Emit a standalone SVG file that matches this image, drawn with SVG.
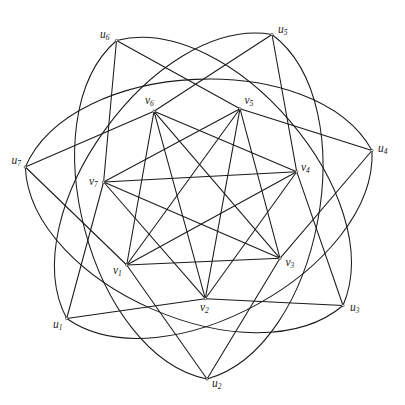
<svg xmlns="http://www.w3.org/2000/svg" width="405" height="405" viewBox="0 0 405 405">
<style>
.e{stroke:#1a1a1a;stroke-width:1.05;fill:none;stroke-linecap:round}
.a{stroke:#1a1a1a;stroke-width:1.05;fill:none}
.n{fill:#fff;stroke:#1a1a1a;stroke-width:0.6}
.l{font-family:"Liberation Serif","DejaVu Serif",serif;font-style:italic;font-size:11.5px;fill:#222}
.s{font-size:7.5px}
</style>
<rect width="405" height="405" fill="#fff"/>
<g id="connectors">
<g id="arcs">
<path class="a" d="M66.7,318.5 C163.4,386.3 377.5,268.4 372,150.5"/>
<path class="a" d="M207,379 C320.8,347.6 366.5,105.3 272,34.5"/>
<path class="a" d="M343,305.5 C389.8,197.1 230.9,11.2 116.5,40.5"/>
<path class="a" d="M372,150.5 C315,47.1 72.2,58.7 25.3,167"/>
<path class="a" d="M272,34.5 C155.6,14.5 11.3,214.2 66.7,318.5"/>
<path class="a" d="M116.5,40.5 C27.5,118.1 91.2,356.2 207,379"/>
<path class="a" d="M25.3,167 C30.6,284.9 253,381.9 343,305.5"/>
</g>
<g id="spokes">
<line class="e" x1="66.7" y1="318.5" x2="103.6" y2="182"/>
<line class="e" x1="66.7" y1="318.5" x2="205.3" y2="298.7"/>
<line class="e" x1="207" y1="379" x2="126.7" y2="265"/>
<line class="e" x1="207" y1="379" x2="280" y2="258.3"/>
<line class="e" x1="343" y1="305.5" x2="205.3" y2="298.7"/>
<line class="e" x1="343" y1="305.5" x2="296.7" y2="171.7"/>
<line class="e" x1="372" y1="150.5" x2="280" y2="258.3"/>
<line class="e" x1="372" y1="150.5" x2="240" y2="108.7"/>
<line class="e" x1="272" y1="34.5" x2="296.7" y2="171.7"/>
<line class="e" x1="272" y1="34.5" x2="154" y2="111.3"/>
<line class="e" x1="116.5" y1="40.5" x2="240" y2="108.7"/>
<line class="e" x1="116.5" y1="40.5" x2="103.6" y2="182"/>
<line class="e" x1="25.3" y1="167" x2="154" y2="111.3"/>
<line class="e" x1="25.3" y1="167" x2="126.7" y2="265"/>
</g>
<g id="inner">
<line class="e" x1="126.7" y1="265" x2="280" y2="258.3"/>
<line class="e" x1="205.3" y1="298.7" x2="296.7" y2="171.7"/>
<line class="e" x1="280" y1="258.3" x2="240" y2="108.7"/>
<line class="e" x1="296.7" y1="171.7" x2="154" y2="111.3"/>
<line class="e" x1="240" y1="108.7" x2="103.6" y2="182"/>
<line class="e" x1="154" y1="111.3" x2="126.7" y2="265"/>
<line class="e" x1="103.6" y1="182" x2="205.3" y2="298.7"/>
<line class="e" x1="126.7" y1="265" x2="296.7" y2="171.7"/>
<line class="e" x1="205.3" y1="298.7" x2="240" y2="108.7"/>
<line class="e" x1="280" y1="258.3" x2="154" y2="111.3"/>
<line class="e" x1="296.7" y1="171.7" x2="103.6" y2="182"/>
<line class="e" x1="240" y1="108.7" x2="126.7" y2="265"/>
<line class="e" x1="154" y1="111.3" x2="205.3" y2="298.7"/>
<line class="e" x1="103.6" y1="182" x2="280" y2="258.3"/>
</g>
</g>
<g id="u1"><circle class="n" cx="66.7" cy="318.5" r="1.2"/><text class="l" x="53" y="328">u<tspan class="s" dy="2">1</tspan></text></g>
<g id="u2"><circle class="n" cx="207" cy="379" r="1.2"/><text class="l" x="212" y="387">u<tspan class="s" dy="2">2</tspan></text></g>
<g id="u3"><circle class="n" cx="343" cy="305.5" r="1.2"/><text class="l" x="350" y="310.5">u<tspan class="s" dy="2">3</tspan></text></g>
<g id="u4"><circle class="n" cx="372" cy="150.5" r="1.2"/><text class="l" x="378" y="151.5">u<tspan class="s" dy="2">4</tspan></text></g>
<g id="u5"><circle class="n" cx="272" cy="34.5" r="1.2"/><text class="l" x="278" y="33">u<tspan class="s" dy="2">5</tspan></text></g>
<g id="u6"><circle class="n" cx="116.5" cy="40.5" r="1.2"/><text class="l" x="100" y="38">u<tspan class="s" dy="2">6</tspan></text></g>
<g id="u7"><circle class="n" cx="25.3" cy="167" r="1.2"/><text class="l" x="11.5" y="164">u<tspan class="s" dy="2">7</tspan></text></g>
<g id="v1"><circle class="n" cx="126.7" cy="265" r="1.2"/><text class="l" x="113" y="273.5">v<tspan class="s" dy="2">1</tspan></text></g>
<g id="v2"><circle class="n" cx="205.3" cy="298.7" r="1.2"/><text class="l" x="200" y="311">v<tspan class="s" dy="2">2</tspan></text></g>
<g id="v3"><circle class="n" cx="280" cy="258.3" r="1.2"/><text class="l" x="285.5" y="266">v<tspan class="s" dy="2">3</tspan></text></g>
<g id="v4"><circle class="n" cx="296.7" cy="171.7" r="1.2"/><text class="l" x="301" y="171">v<tspan class="s" dy="2">4</tspan></text></g>
<g id="v5"><circle class="n" cx="240" cy="108.7" r="1.2"/><text class="l" x="244.5" y="103.5">v<tspan class="s" dy="2">5</tspan></text></g>
<g id="v6"><circle class="n" cx="154" cy="111.3" r="1.2"/><text class="l" x="145" y="104">v<tspan class="s" dy="2">6</tspan></text></g>
<g id="v7"><circle class="n" cx="103.6" cy="182" r="1.2"/><text class="l" x="89" y="185">v<tspan class="s" dy="2">7</tspan></text></g>
</svg>
